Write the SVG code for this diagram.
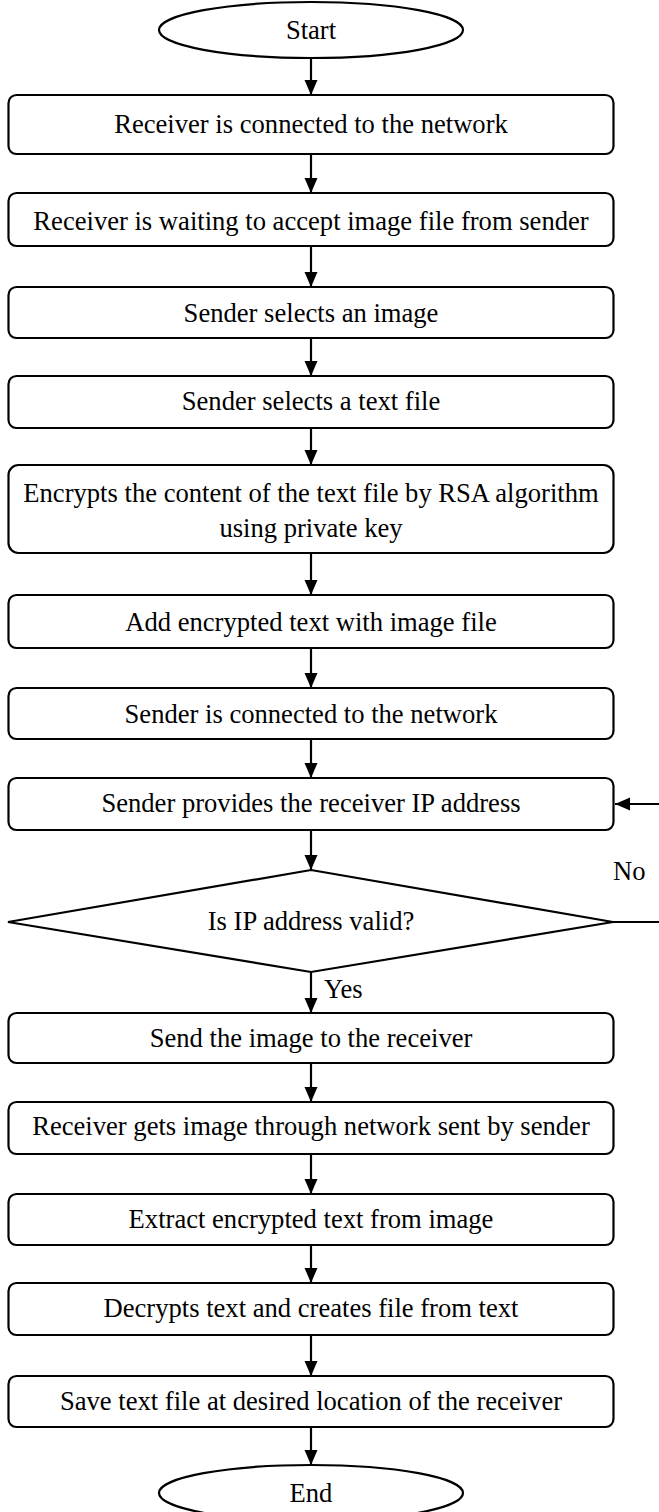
<svg xmlns="http://www.w3.org/2000/svg" width="659" height="1512" viewBox="0 0 659 1512">
<style>
.n{fill:#fff;stroke:#000;stroke-width:2.2}
.t{font-family:"Liberation Serif","Times New Roman",serif;font-size:26.6px;fill:#000;text-anchor:middle}
.l{font-family:"Liberation Serif","Times New Roman",serif;font-size:26.6px;fill:#000}
.c{fill:none;stroke:#000;stroke-width:2.2}
</style>
<defs>
<marker id="ah" markerUnits="userSpaceOnUse" markerWidth="16" markerHeight="14" refX="15" refY="6.5" orient="auto">
<path d="M0,0 L15,6.5 L0,13 z" fill="#000"/>
</marker>
</defs>
<rect width="659" height="1512" fill="#fff"/>
<g id="connectors">
<line class="c" x1="311" y1="58" x2="311" y2="95" marker-end="url(#ah)"/>
<line class="c" x1="311" y1="154" x2="311" y2="193" marker-end="url(#ah)"/>
<line class="c" x1="311" y1="246" x2="311" y2="287" marker-end="url(#ah)"/>
<line class="c" x1="311" y1="338" x2="311" y2="376" marker-end="url(#ah)"/>
<line class="c" x1="311" y1="428" x2="311" y2="465" marker-end="url(#ah)"/>
<line class="c" x1="311" y1="553" x2="311" y2="595" marker-end="url(#ah)"/>
<line class="c" x1="311" y1="648" x2="311" y2="688" marker-end="url(#ah)"/>
<line class="c" x1="311" y1="739" x2="311" y2="778" marker-end="url(#ah)"/>
<line class="c" x1="311" y1="831" x2="311" y2="870" marker-end="url(#ah)"/>
<line class="c" x1="311" y1="972" x2="311" y2="1013" marker-end="url(#ah)"/>
<line class="c" x1="311" y1="1063" x2="311" y2="1102" marker-end="url(#ah)"/>
<line class="c" x1="311" y1="1154" x2="311" y2="1194" marker-end="url(#ah)"/>
<line class="c" x1="311" y1="1245" x2="311" y2="1283" marker-end="url(#ah)"/>
<line class="c" x1="311" y1="1335" x2="311" y2="1376" marker-end="url(#ah)"/>
<line class="c" x1="311" y1="1427" x2="311" y2="1465" marker-end="url(#ah)"/>
<path class="c" d="M613,922 H663 V804 H615" marker-end="url(#ah)"/>
<text class="l" x="613" y="880">No</text>
<text class="l" x="324" y="998">Yes</text>
</g>
<g id="start"><ellipse class="n" cx="311" cy="30" rx="152" ry="28"/><text class="t" x="311" y="39">Start</text></g>
<g id="n1"><rect class="n" x="8.5" y="95" width="605" height="59" rx="8"/><text class="t" x="311" y="133">Receiver is connected to the network</text></g>
<g id="n2"><rect class="n" x="8.5" y="193" width="605" height="53" rx="8"/><text class="t" x="311" y="230">Receiver is waiting to accept image file from sender</text></g>
<g id="n3"><rect class="n" x="8.5" y="287" width="605" height="51" rx="8"/><text class="t" x="311" y="322">Sender selects an image</text></g>
<g id="n4"><rect class="n" x="8.5" y="376" width="605" height="52" rx="8"/><text class="t" x="311" y="410">Sender selects a text file</text></g>
<g id="n5"><rect class="n" x="8.5" y="465" width="605" height="88" rx="10"/><text class="t" x="311" y="502">Encrypts the content of the text file by RSA algorithm</text><text class="t" x="311" y="537">using private key</text></g>
<g id="n6"><rect class="n" x="8.5" y="595" width="605" height="53" rx="8"/><text class="t" x="311" y="631">Add encrypted text with image file</text></g>
<g id="n7"><rect class="n" x="8.5" y="688" width="605" height="51" rx="8"/><text class="t" x="311" y="723">Sender is connected to the network</text></g>
<g id="n8"><rect class="n" x="8.5" y="778" width="605" height="52" rx="8"/><text class="t" x="311" y="812">Sender provides the receiver IP address</text></g>
<g id="d1"><polygon class="n" points="311,870 613,922 311,972 8,922"/><text class="t" x="311" y="930">Is IP address valid?</text></g>
<g id="n9"><rect class="n" x="8.5" y="1013" width="605" height="50" rx="8"/><text class="t" x="311" y="1047">Send the image to the receiver</text></g>
<g id="n10"><rect class="n" x="8.5" y="1102" width="605" height="52" rx="8"/><text class="t" x="311" y="1135">Receiver gets image through network sent by sender</text></g>
<g id="n11"><rect class="n" x="8.5" y="1194" width="605" height="51" rx="8"/><text class="t" x="311" y="1228">Extract encrypted text from image</text></g>
<g id="n12"><rect class="n" x="8.5" y="1283" width="605" height="52" rx="8"/><text class="t" x="311" y="1317">Decrypts text and creates file from text</text></g>
<g id="n13"><rect class="n" x="8.5" y="1376" width="605" height="51" rx="8"/><text class="t" x="311" y="1410">Save text file at desired location of the receiver</text></g>
<g id="end"><ellipse class="n" cx="311" cy="1493" rx="152" ry="28"/><text class="t" x="311" y="1502">End</text></g>
</svg>
